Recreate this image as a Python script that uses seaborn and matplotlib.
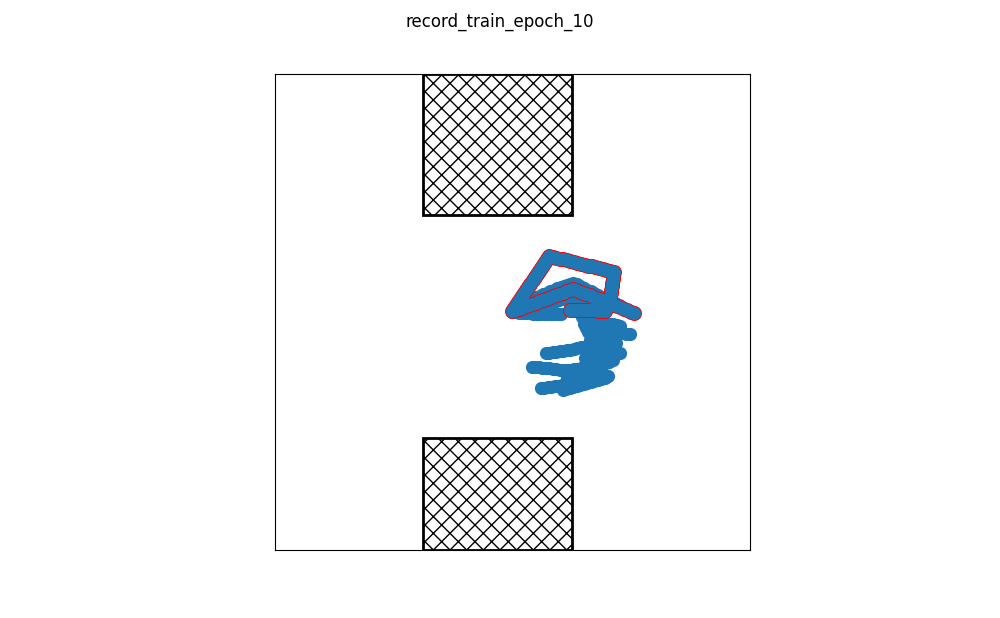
import matplotlib
matplotlib.use("Agg")
import matplotlib.pyplot as plt
from matplotlib.patches import Rectangle
import seaborn as sns

# world limits
x_lim = [0, 4.75]
y_lim = [0, 4.76]

# obstacles: (x, y, width, height)
obstacle_x = [1.48, 1.48]
obstacle_y = [3.35, 0.0]
obstacle_w = [1.49, 1.49]
obstacle_h = [1.41, 1.12]

# trajectory points (plain)
traj_x = [
    # bottom row
    2.37, 2.41, 2.44, 2.48, 2.51, 2.55, 2.58, 2.62, 2.65, 2.69, 2.72, 2.76, 2.79, 2.83, 2.86,
    # upper triangle
    2.44, 2.47, 2.51, 2.54, 2.58, 2.61, 2.65, 2.68, 2.72, 2.75, 2.79, 2.82, 2.86, 2.89, 2.92, 2.95, 2.98,
    3.02, 3.05, 3.09, 3.12, 3.16, 3.19, 3.23, 3.26, 3.30, 3.33, 3.37, 3.40, 3.44, 3.47,
    # inner triangle
    2.70, 2.74, 2.77, 2.81, 2.84, 2.88, 2.91, 2.95, 2.98, 3.02, 3.05, 3.09, 3.12, 3.16, 3.19, 3.23, 3.26,
    # cluster
    3.07, 3.10, 3.14, 3.17, 3.21, 3.24, 3.28, 3.31, 3.35, 3.38, 3.42, 3.45,
    3.09, 3.11,
    3.13, 3.16, 3.20, 3.23, 3.27, 3.30, 3.34, 3.37, 3.41, 3.44, 3.48, 3.51, 3.55,
    2.71, 2.74, 2.78, 2.81, 2.85, 2.88, 2.92, 2.95, 2.99, 3.02, 3.06, 3.09, 3.13, 3.16, 3.20,
    3.23, 3.27, 3.30, 3.34, 3.37, 3.41,
    3.45, 3.42, 3.38, 3.35, 3.31, 3.28, 3.24, 3.21, 3.17, 3.14, 3.10,
    2.57, 2.60, 2.64, 2.67, 2.71, 2.74, 2.78, 2.81, 2.85, 2.88, 2.92, 2.95, 2.99, 3.02, 3.06,
    3.09, 3.13, 3.16, 3.20, 3.23, 3.27, 3.30, 3.34, 3.38,
    2.92, 2.95, 2.99, 3.02, 3.06, 3.09, 3.13, 3.16, 3.20, 3.23, 3.27,
    2.66, 2.69, 2.73, 2.76, 2.80, 2.83, 2.87, 2.90, 2.94,
    2.88, 2.91, 2.95, 2.98, 3.02, 3.05, 3.09, 3.12, 3.16, 3.19, 3.23, 3.26, 3.30, 3.33,
    3.15, 3.16, 3.17, 3.18, 3.19, 3.20,
]
traj_y = [
    2.38, 2.38, 2.37, 2.37, 2.37, 2.37, 2.36, 2.36, 2.36, 2.36, 2.36, 2.36, 2.36, 2.36, 2.36,
    2.44, 2.46, 2.48, 2.50, 2.51, 2.53, 2.54, 2.56, 2.57, 2.59, 2.60, 2.62, 2.63, 2.64, 2.65, 2.66, 2.67,
    2.66, 2.64, 2.62, 2.60, 2.59, 2.57, 2.55, 2.53, 2.52, 2.50, 2.48, 2.47, 2.45, 2.43,
    2.44, 2.46, 2.47, 2.49, 2.50, 2.51, 2.52, 2.53, 2.53, 2.52, 2.51, 2.50, 2.49, 2.47, 2.46, 2.45, 2.43,
    2.33, 2.30, 2.30, 2.29, 2.29, 2.28, 2.28, 2.27, 2.26, 2.26, 2.25, 2.24,
    2.26, 2.22,
    2.18, 2.18, 2.17, 2.17, 2.17, 2.17, 2.17, 2.17, 2.17, 2.17, 2.17, 2.16, 2.16,
    1.97, 1.97, 1.98, 1.98, 1.99, 1.99, 2.00, 2.00, 2.01, 2.02, 2.03, 2.03, 2.04, 2.04, 2.05,
    2.05, 2.06, 2.06, 2.07, 2.07, 2.07,
    1.97, 1.97, 1.96, 1.96, 1.95, 1.95, 1.94, 1.94, 1.93, 1.93, 1.92,
    1.83, 1.83, 1.83, 1.82, 1.82, 1.82, 1.81, 1.81, 1.80, 1.80, 1.80, 1.80, 1.81, 1.81, 1.82,
    1.83, 1.84, 1.84, 1.85, 1.86, 1.87, 1.87, 1.88, 1.90,
    1.73, 1.73, 1.74, 1.74, 1.75, 1.75, 1.76, 1.76, 1.77, 1.77, 1.78,
    1.62, 1.62, 1.63, 1.63, 1.64, 1.64, 1.65, 1.65, 1.66,
    1.60, 1.61, 1.62, 1.63, 1.64, 1.65, 1.66, 1.67, 1.68, 1.69, 1.70, 1.71, 1.72, 1.74,
    2.10, 2.06, 2.00, 1.94, 1.88, 1.82,
]

# highlighted trajectory (red outline)
path_x = [
    3.59, 3.56, 3.52, 3.49, 3.45, 3.42, 3.38, 3.35, 3.32, 3.28, 3.25, 3.21, 3.18, 3.15, 3.11,
    3.08, 3.05, 3.01, 2.98,
    2.95, 2.91, 2.88, 2.84, 2.81, 2.78, 2.74, 2.71, 2.68, 2.64, 2.61, 2.57, 2.54, 2.51, 2.47,
    2.44, 2.40, 2.37,
    2.39, 2.41, 2.43, 2.45, 2.47, 2.49, 2.51, 2.53, 2.55, 2.58, 2.60, 2.62, 2.64, 2.66, 2.68,
    2.70, 2.72, 2.74,
    2.78, 2.81, 2.85, 2.88, 2.92, 2.95, 2.99, 3.02, 3.06, 3.10, 3.13, 3.17, 3.20, 3.24, 3.28,
    3.31, 3.35, 3.39,
    3.38, 3.38, 3.37, 3.37, 3.36, 3.36, 3.35, 3.35,
    3.30, 3.27, 3.23, 3.20, 3.16, 3.13, 3.09, 3.06, 3.02, 2.99, 2.95,
]
path_y = [
    2.37, 2.38, 2.40, 2.41, 2.43, 2.44, 2.45, 2.47, 2.48, 2.50, 2.51, 2.52, 2.53, 2.55, 2.56,
    2.57, 2.58, 2.60, 2.61,
    2.60, 2.59, 2.57, 2.56, 2.55, 2.54, 2.52, 2.51, 2.50, 2.49, 2.47, 2.46, 2.45, 2.44, 2.42,
    2.41, 2.40, 2.39,
    2.42, 2.45, 2.48, 2.51, 2.54, 2.57, 2.60, 2.63, 2.66, 2.70, 2.73, 2.76, 2.79, 2.82, 2.85,
    2.88, 2.91, 2.94,
    2.93, 2.92, 2.91, 2.91, 2.90, 2.89, 2.88, 2.87, 2.86, 2.85, 2.84, 2.84, 2.83, 2.82, 2.81,
    2.80, 2.79, 2.78,
    2.74, 2.71, 2.67, 2.64, 2.60, 2.57, 2.53, 2.50,
    2.39, 2.39, 2.39, 2.40, 2.40, 2.40, 2.40, 2.40, 2.40, 2.40, 2.40,
]

blue = "#1f77b4"
marker_size = 90

fig, ax = plt.subplots(figsize=(10, 6.18), dpi=100)

for ox, oy, ow, oh in zip(obstacle_x, obstacle_y, obstacle_w, obstacle_h):
    ax.add_patch(Rectangle((ox, oy), ow, oh, fill=False, hatch="xx",
                           edgecolor="black", linewidth=2))

sns.scatterplot(x=traj_x, y=traj_y, ax=ax, s=marker_size, color=blue, linewidth=0)
# red outline underneath, then the same points on top
sns.scatterplot(x=path_x, y=path_y, ax=ax, s=marker_size, color=blue,
                edgecolor="red", linewidth=1.3)
sns.scatterplot(x=path_x, y=path_y, ax=ax, s=marker_size, color=blue, linewidth=0)

ax.set_xlim(x_lim)
ax.set_ylim(y_lim)
ax.set_aspect("equal")
ax.set_xticks([])
ax.set_yticks([])

fig.suptitle("record_train_epoch_10")
fig.savefig("out.png", dpi=100)
